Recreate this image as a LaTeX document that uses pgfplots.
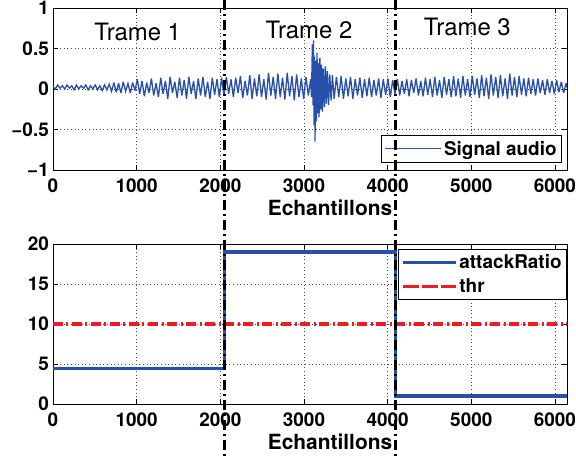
\documentclass[border=0pt]{standalone}
\usepackage{fontspec}
\setmainfont{TeX Gyre Heros}
\usepackage{pgfplots}
\pgfplotsset{compat=1.18}
\definecolor{sigblue}{RGB}{40,80,170}
\definecolor{thrred}{RGB}{237,28,36}
\pgfplotsset{
  common/.style={
    scale only axis, width=514bp,
    xmin=0, xmax=6144,
    xtick={0,1000,2000,3000,4000,5000,6000},
    xticklabels={0,1000,2000,3000,4000,5000,6000},
    tick align=inside, major tick length=5bp,
    grid=major,
    major grid style={black!70, line width=0.5bp, dash pattern=on 0.6bp off 3bp},
    axis line style={line width=0.8bp},
    every tick/.style={line width=0.6bp, black},
    tick label style={font=\bfseries\fontsize{19}{19}\selectfont},
    xticklabel style={inner sep=0bp, yshift=-9bp},
    yticklabel style={inner sep=0bp, xshift=-4bp},
    xlabel={Echantillons},
    xlabel style={font=\bfseries\fontsize{21}{21}\selectfont, at={(axis description cs:0.539,0)}, anchor=base, yshift=-45bp},
    legend style={draw=black, line width=0.8bp, font=\bfseries\fontsize{19}{21}\selectfont, inner xsep=3bp, inner ysep=3bp, legend cell align=left},
  }
}
\begin{document}
\begin{tikzpicture}
\begin{axis}[common, height=162bp,
  ymin=-1, ymax=1,
  ytick={-1,-0.5,0,0.5,1},
  yticklabels={−1,−0.5,0,0.5,1},
  legend style={at={(axis description cs:1,0)}, anchor=south east, xshift=-5bp, yshift=7bp, inner ysep=4bp},
  legend image code/.code={\path (-11bp,0bp) -- (45bp,0bp); \draw[#1, line width=0.7bp] (0bp,0bp) -- (45bp,0bp);},
]
\addplot[sigblue, line width=1.3bp, line join=miter, miter limit=4] coordinates {
(0,0.03) (28,0.00) (56,0.05) (84,0.01) (112,0.04) (140,0.00) (168,0.05) (196,0.01) (224,0.04) (252,-0.01)
(280,0.05) (308,0.00) (336,0.04) (364,0.01) (392,0.05) (420,-0.01) (448,0.04) (476,0.00) (504,0.05) (532,-0.01)
(560,0.04) (588,-0.02) (616,0.05) (644,-0.01) (672,0.06) (700,-0.03) (728,0.08) (756,-0.04) (784,0.07) (812,-0.05)
(840,0.09) (868,-0.03) (896,0.07) (924,-0.05) (952,0.08) (980,-0.02) (1008,0.12) (1036,-0.06) (1064,0.10) (1092,-0.09)
(1120,0.08) (1148,-0.05) (1176,0.13) (1204,-0.08) (1232,0.07) (1260,-0.10) (1288,0.14) (1316,-0.06) (1344,0.10) (1372,-0.12)
(1400,0.15) (1428,-0.05) (1456,0.09) (1484,-0.11) (1512,0.14) (1540,-0.08) (1568,0.11) (1596,-0.12) (1624,0.15) (1652,-0.06)
(1680,0.10) (1708,-0.12) (1736,0.13) (1764,-0.08) (1792,0.15) (1820,-0.10) (1848,0.09) (1876,-0.12) (1904,0.14) (1932,-0.07)
(1960,0.12) (1988,-0.10) (2016,0.14) (2044,-0.08) (2072,0.15) (2100,-0.06) (2128,0.12) (2156,-0.10) (2184,0.14) (2212,-0.05)
(2240,0.16) (2268,-0.11) (2296,0.10) (2324,-0.08) (2352,0.17) (2380,-0.12) (2408,0.13) (2436,-0.09) (2464,0.18) (2492,-0.10)
(2520,0.12) (2548,-0.13) (2576,0.20) (2604,-0.08) (2632,0.15) (2660,-0.12) (2688,0.19) (2716,-0.10) (2744,0.14) (2772,-0.13)
(2800,0.20) (2828,-0.09) (2856,0.16) (2884,-0.14) (2912,0.18) (2940,-0.10) (2968,0.13) (2996,-0.12) (3024,0.15) (3052,-0.08)
(3080,0.12) (3090,-0.10) (3100,0.55) (3108,-0.20) (3114,0.60) (3120,-0.45) (3126,0.40) (3132,-0.65) (3140,0.35) (3148,-0.40)
(3156,0.45) (3164,-0.30) (3172,0.32) (3180,-0.35) (3190,0.38) (3200,-0.25) (3210,0.30) (3220,-0.28) (3232,0.25) (3244,-0.22)
(3256,0.28) (3268,-0.18) (3280,0.22) (3294,-0.20) (3308,0.18) (3324,-0.14) (3340,0.17) (3360,-0.12) (3388,0.15) (3416,-0.10)
(3444,0.16) (3472,-0.12) (3500,0.13) (3528,-0.09) (3556,0.15) (3584,-0.12) (3612,0.12) (3640,-0.08) (3668,0.14) (3696,-0.11)
(3724,0.12) (3752,-0.09) (3780,0.14) (3808,-0.10) (3836,0.11) (3864,-0.08) (3892,0.13) (3920,-0.11) (3948,0.12) (3976,-0.07)
(4004,0.13) (4032,-0.10) (4060,0.11) (4088,-0.06) (4116,0.12) (4144,-0.08) (4172,0.10) (4200,-0.06) (4228,0.12) (4256,-0.09)
(4284,0.11) (4312,-0.05) (4340,0.13) (4368,-0.08) (4396,0.10) (4424,-0.09) (4452,0.14) (4480,-0.07) (4508,0.12) (4536,-0.10)
(4564,0.15) (4592,-0.08) (4620,0.11) (4648,-0.11) (4676,0.15) (4704,-0.07) (4732,0.12) (4760,-0.10) (4788,0.16) (4816,-0.09)
(4844,0.13) (4872,-0.11) (4900,0.16) (4928,-0.08) (4956,0.12) (4984,-0.10) (5012,0.16) (5040,-0.07) (5068,0.13) (5096,-0.11)
(5124,0.17) (5152,-0.09) (5180,0.14) (5208,-0.12) (5236,0.18) (5264,-0.08) (5292,0.15) (5320,-0.11) (5348,0.17) (5376,-0.09)
(5404,0.13) (5432,-0.12) (5460,0.19) (5488,-0.08) (5516,0.15) (5544,-0.10) (5572,0.16) (5600,-0.07) (5628,0.13) (5656,-0.09)
(5684,0.14) (5712,-0.06) (5740,0.12) (5768,-0.08) (5796,0.13) (5824,-0.05) (5852,0.11) (5880,-0.07) (5908,0.12) (5936,-0.05)
(5964,0.10) (5992,-0.06) (6020,0.11) (6048,-0.04) (6076,0.09) (6104,-0.05) (6132,0.07) (6144,0.02)
};
\addlegendentry{Signal audio}
\node[font=\fontsize{24}{24}\selectfont, anchor=base] at (axis cs:1012,0.60) {Trame 1};
\node[font=\fontsize{24}{24}\selectfont, anchor=base] at (axis cs:3060,0.62) {Trame 2};
\node[font=\fontsize{24}{24}\selectfont, anchor=base] at (axis cs:4953,0.66) {Trame 3};
\coordinate (v1) at (axis cs:2048,0);
\coordinate (v2) at (axis cs:4096,0);
\end{axis}
\begin{axis}[common, height=160bp, at={(0,-234bp)},
  ymin=0, ymax=20,
  ytick={0,5,10,15,20},
  yticklabels={0,5,10,15,20},
  legend style={at={(axis description cs:1,1)}, anchor=north east, yshift=-5bp, inner ysep=3bp, row sep=5bp},
  legend image code/.code={\path (-6bp,0bp) -- (47bp,0bp); \draw[#1] (0bp,0bp) -- (47bp,0bp);},
]
\addplot[sigblue, line width=3.2bp] coordinates {
(0,4.4) (2048,4.4) (2048,19) (4096,19) (4096,1) (6144,1)
};
\addlegendentry{attackRatio}
\addplot[thrred, line width=3.2bp, dash pattern=on 10bp off 3.5bp on 2bp off 3.5bp] coordinates {
(0,10) (6144,10)
};
\addlegendentry{thr}
\end{axis}
\draw[black, line width=3.2bp, dash pattern=on 10bp off 4bp on 2bp off 4bp] (v1 |- 0,170bp) -- (v1 |- 0,-287bp);
\draw[black, line width=3.2bp, dash pattern=on 10bp off 4bp on 2bp off 4bp] (v2 |- 0,170bp) -- (v2 |- 0,-287bp);
\pgfresetboundingbox
\path (-53bp,-287bp) rectangle (523bp,170bp);
\end{tikzpicture}
\end{document}
